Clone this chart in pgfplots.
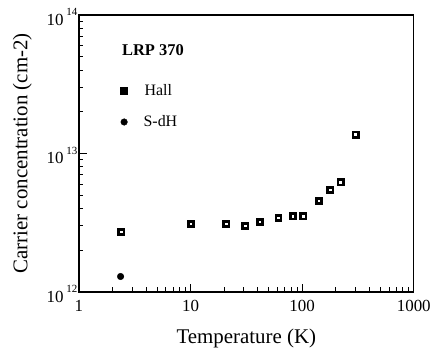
\documentclass[border=0pt]{standalone}
\usepackage{pgfplots}
\pgfplotsset{compat=1.18}
\usepackage{fontspec}
\setmainfont{Liberation Serif}
\begin{document}
\begin{tikzpicture}
\begin{loglogaxis}[
  scale only axis,
  width=335bp, height=277bp,
  xmin=1, xmax=1000, ymin=1e12, ymax=1e14,
  axis line style={line width=1.4pt},
  tick align=inside,
  xtick pos=bottom, ytick pos=left,
  major tick length=8bp, minor tick length=4.5bp,
  every tick/.style={black, line width=0.9pt},
  xtick={1,10,100,1000},
  xticklabels={1,10,100,1000},
  ytick={1e12,1e13,1e14},
  yticklabels={10\,\raisebox{0.55em}{\fontsize{11}{12}\selectfont 12},10\,\raisebox{0.55em}{\fontsize{11}{12}\selectfont 13},10\,\raisebox{0.55em}{\fontsize{11}{12}\selectfont 14}},
  ticklabel style={font=\fontsize{17}{19}\selectfont},
  xticklabel style={yshift=-5bp},
  yticklabel style={yshift=-2bp, xshift=2bp},
  xlabel={Temperature (K)},
  ylabel={Carrier concentration (cm-2)},
  xlabel style={font=\fontsize{21}{23}\selectfont, yshift=-10bp},
  ylabel style={font=\fontsize{21}{23}\selectfont, yshift=8bp},
  legend style={at={(rel axis cs:0.115,0.765)}, anchor=north west, draw=none, fill=none,
    row sep=15bp, font=\fontsize{16}{18}\selectfont},
  legend cell align=left,
]
\addplot[only marks, mark=square*, mark size=3.5bp, mark options={draw=black, fill=black}]
coordinates {
(2.38,2.72e12) (10,3.1e12) (20.8,3.1e12) (30.8,3.01e12) (41.5,3.2e12)
(61,3.44e12) (82,3.52e12) (102,3.52e12) (141,4.54e12) (178,5.48e12)
(220,6.22e12) (300,1.37e13)
};
\addlegendentry{\hspace{15bp}Hall}
\addplot[only marks, mark=*, mark size=3.3bp, mark options={black, fill=black}]
coordinates {(2.36,1.29e12)};
\addlegendentry{\hspace{14bp}S-dH}
\addplot[only marks, mark=square*, mark size=0.8bp, mark options={draw=white, fill=white}, forget plot]
coordinates {
(2.38,2.72e12) (10,3.1e12) (20.8,3.1e12) (30.8,3.01e12) (41.5,3.2e12)
(61,3.44e12) (82,3.52e12) (102,3.52e12) (141,4.54e12) (178,5.48e12)
(220,6.22e12) (300,1.37e13)
};
\node[font=\bfseries\fontsize{16.5}{18}\selectfont] at (rel axis cs:0.221,0.872) {LRP 370};
\end{loglogaxis}
\useasboundingbox ([xshift=-79bp,yshift=-56bp]current axis.south west) rectangle ([xshift=20bp,yshift=15bp]current axis.north east);
\end{tikzpicture}
\end{document}
